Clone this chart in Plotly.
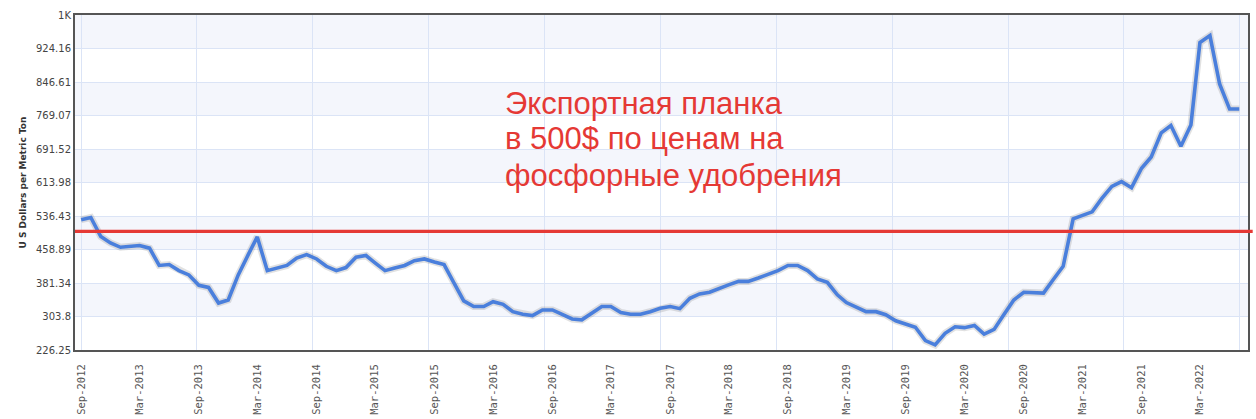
import pandas as pd
import plotly.graph_objects as go

# ---- data -------------------------------------------------------------
start_month = "2012-09-01"
prices = [
    528, 533, 489, 474, 464, 466, 468, 462, 422, 424, 410, 400,
    376, 371, 335, 342, 400, 447, 488, 410, 416, 422, 439, 447,
    437, 420, 410, 417, 441, 445, 428, 410, 416, 422, 433, 437,
    430, 424, 381, 340, 327, 327, 338, 332, 315, 309, 306, 319,
    319, 309, 298, 296, 311, 327, 327, 313, 309, 309, 315, 323,
    327, 322, 346, 356, 360, 370, 377, 385, 385, 393, 402, 410,
    422, 422, 410, 391, 383, 354, 336, 325, 315, 315, 308, 294,
    287, 279, 248, 238, 265, 280, 278, 283, 263, 274, 308, 342,
    360, 358, 358, 389, 420, 530, 538, 546, 577, 605, 616, 602,
    647, 673, 729, 746, 698, 747, 938, 954, 842, 784, 784,
]
months = pd.date_range(start_month, periods=len(prices), freq="MS")

y_tick_vals = [226.25, 303.8, 381.34, 458.89, 536.43, 613.98, 691.52,
               769.07, 846.61, 924.16, 1000]
y_tick_text = ["226.25", "303.8", "381.34", "458.89", "536.43", "613.98",
               "691.52", "769.07", "846.61", "924.16", "1K"]
x_tick_vals = pd.date_range("2012-09-01", "2022-03-01", freq="6MS")

threshold = 501
annotation_lines = ["Экспортная планка", "в 500$ по ценам на",
                    "фосфорные удобрения"]
y_title = "U S Dollars per Metric Ton"

# ---- figure -----------------------------------------------------------
y_range = [226.25, 1001.7]
x_range = ["2012-08-13", "2022-07-28"]

fig = go.Figure()
fig.add_trace(go.Scatter(x=months, y=prices, mode="lines",
                         line=dict(color="rgba(90,90,90,0.18)", width=7),
                         hoverinfo="skip", showlegend=False))
fig.add_trace(go.Scatter(x=months, y=prices, mode="lines",
                         line=dict(color="#4a7fdc", width=3.6),
                         showlegend=False))

# alternating horizontal bands
band_edges = y_tick_vals[:-1] + [y_range[1]]
shapes = []
for i in range(1, len(band_edges) - 1, 2):
    shapes.append(dict(type="rect", xref="paper", yref="y", x0=0, x1=1,
                       y0=band_edges[i], y1=band_edges[i + 1],
                       fillcolor="#f4f6fc", line=dict(width=0), layer="below"))
shapes.append(dict(type="line", xref="paper", yref="y", x0=0, x1=1.004,
                   y0=threshold, y1=threshold,
                   line=dict(color="#e53935", width=3.2), layer="above"))

annotations = []
line_y = [0.737, 0.630, 0.522]
for txt, yy in zip(annotation_lines, line_y):
    annotations.append(dict(text=txt, xref="paper", yref="paper", x=0.3650,
                            y=yy, xanchor="left", yanchor="middle",
                            showarrow=False,
                            font=dict(family="Liberation Sans, Arial",
                                      size=31, color="#e53935")))

fig.update_layout(
    width=1256, height=419,
    margin=dict(l=75, r=8, t=15, b=69),
    paper_bgcolor="white", plot_bgcolor="white",
    shapes=shapes, annotations=annotations,
    xaxis=dict(
        type="date", range=x_range, automargin=False,
        tickvals=x_tick_vals, tickformat="%b-%Y", tickangle=-90,
        tickfont=dict(family="DejaVu Sans Mono", size=10.5, color="#555"),
        ticklabelstandoff=8,
        showgrid=False, ticks="",
        minor=dict(showgrid=True, gridcolor="#dbe4f6", gridwidth=1,
                   tick0="2013-08-26", dtick=359.2 * 86400000),
        showline=True, linecolor="#555", linewidth=2, mirror=True,
        zeroline=False,
    ),
    yaxis=dict(
        range=y_range, tickvals=y_tick_vals, ticktext=y_tick_text,
        automargin=False,
        tickfont=dict(family="DejaVu Sans", size=10, color="#444"),
        showgrid=True, gridcolor="#dbe4f6", gridwidth=1, ticks="",
        showline=True, linecolor="#555", linewidth=2, mirror=True,
        zeroline=False,
        title=dict(text=y_title, standoff=8,
                   font=dict(family="DejaVu Sans", size=9, color="#333",
                             weight="bold")),
    ),
)

fig.write_html("out.html", config={"displayModeBar": False},
               post_script="document.body.style.margin='0px';")
